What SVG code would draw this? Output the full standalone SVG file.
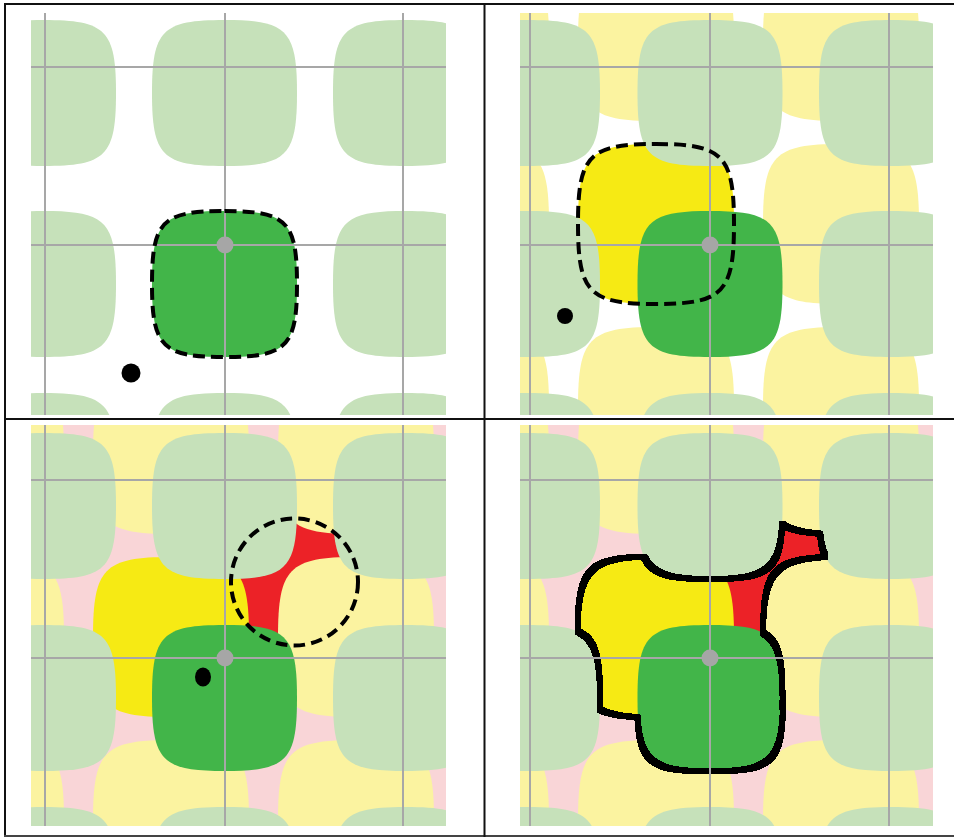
<svg xmlns="http://www.w3.org/2000/svg" xmlns:xlink="http://www.w3.org/1999/xlink" width="954" height="838" viewBox="0 0 954 838">
<style>
.lg{fill:#c6e1ba}
.dg{fill:#42b549}
.ly{fill:#fbf3a0}
.by{fill:#f6ea14}
.pk{fill:#f9d5d7}
.rd{fill:#ec2227}
.grid line{stroke:#a7a7a7;stroke-width:2}
.gdot{fill:#a6a6a6}
.dash{fill:none;stroke:#000;stroke-width:4;stroke-dasharray:12 6}
.frame line{stroke:#111;stroke-width:2}
.mw{fill:#fff}
.mb{fill:#000}
</style>
<defs>
<path id="gt" d="M0,-73 C62.35,-73 72.5,-62.78 72.5,0 C72.5,62.78 62.35,73 0,73 C-62.35,73 -72.5,62.78 -72.5,0 C-72.5,-62.78 -62.35,-73 0,-73Z"/>
<path id="yt" d="M0,-80 C67.08,-80 78,-68.8 78,0 C78,68.8 67.08,80 0,80 C-67.08,80 -78,68.8 -78,0 C-78,-68.8 -67.08,-80 0,-80Z"/>
<clipPath id="c1"><rect x="31" y="13" width="415" height="402"/></clipPath>
<clipPath id="c2"><rect x="520" y="13" width="413" height="402"/></clipPath>
<clipPath id="c3"><rect x="31" y="425" width="415" height="401"/></clipPath>
<clipPath id="c4"><rect x="520" y="425" width="413" height="401"/></clipPath>
<filter id="ring" filterUnits="userSpaceOnUse" x="500" y="410" width="454" height="425" color-interpolation-filters="sRGB">
<feColorMatrix in="SourceGraphic" type="luminanceToAlpha" result="l"/>
<feComponentTransfer in="l" result="m"><feFuncA type="discrete" tableValues="0 1"/></feComponentTransfer>
<feMorphology in="m" operator="dilate" radius="2.5" result="d"/>
<feMorphology in="m" operator="erode" radius="2.5" result="e"/>
<feComposite in="d" in2="e" operator="out"/>
</filter>
</defs>
<rect width="954" height="838" fill="#fff"/>

<g id="panel1" clip-path="url(#c1)">
<g class="lg">
<use href="#gt" x="43.5" y="93"/><use href="#gt" x="224.5" y="93"/><use href="#gt" x="405.5" y="93"/>
<use href="#gt" x="43.5" y="284"/><use href="#gt" x="405.5" y="284"/>
<use href="#gt" x="43.5" y="466"/><use href="#gt" x="224.5" y="466"/><use href="#gt" x="405.5" y="466"/>
</g>
<use href="#gt" x="224.5" y="284" class="dg"/>
<g class="grid">
<line x1="45" y1="13" x2="45" y2="415"/><line x1="225" y1="13" x2="225" y2="415"/><line x1="403" y1="13" x2="403" y2="415"/>
<line x1="31" y1="67" x2="446" y2="67"/><line x1="31" y1="245" x2="446" y2="245"/>
</g>
<use href="#gt" x="224.5" y="284" class="dash"/>
<circle class="gdot" cx="225" cy="245" r="8.5"/>
<circle cx="131" cy="373" r="9.5" fill="#000"/>
</g>

<g id="panel2" clip-path="url(#c2)">
<g class="ly">
<use href="#yt" x="471" y="41"/><use href="#yt" x="656" y="41"/><use href="#yt" x="841" y="41"/>
<use href="#yt" x="471" y="224"/><use href="#yt" x="841" y="224"/>
<use href="#yt" x="471" y="407"/><use href="#yt" x="656" y="407"/><use href="#yt" x="841" y="407"/>
</g>
<use href="#yt" x="656" y="224" class="by"/>
<g class="lg">
<use href="#gt" x="527.5" y="93"/><use href="#gt" x="710" y="93"/><use href="#gt" x="891.5" y="93"/>
<use href="#gt" x="527.5" y="284"/><use href="#gt" x="891.5" y="284"/>
<use href="#gt" x="527.5" y="466"/><use href="#gt" x="710" y="466"/><use href="#gt" x="891.5" y="466"/>
</g>
<use href="#gt" x="710" y="284" class="dg"/>
<g class="grid">
<line x1="530" y1="13" x2="530" y2="415"/><line x1="710" y1="13" x2="710" y2="415"/><line x1="889" y1="13" x2="889" y2="415"/>
<line x1="520" y1="67" x2="933" y2="67"/><line x1="520" y1="245" x2="933" y2="245"/>
</g>
<use href="#yt" x="656" y="224" class="dash"/>
<circle class="gdot" cx="710" cy="245" r="8.5"/>
<circle cx="565" cy="316" r="8" fill="#000"/>
</g>

<g id="panel3" clip-path="url(#c3)">
<rect class="pk" x="31" y="425" width="415" height="401"/>
<circle class="rd" cx="294.5" cy="582" r="62"/>
<g class="ly">
<use href="#yt" x="-14" y="454"/><use href="#yt" x="171" y="454"/><use href="#yt" x="356" y="454"/>
<use href="#yt" x="-14" y="637"/><use href="#yt" x="356" y="637"/>
<use href="#yt" x="-14" y="820"/><use href="#yt" x="171" y="820"/><use href="#yt" x="356" y="820"/>
</g>
<use href="#yt" x="171" y="637" class="by"/>
<g class="lg">
<use href="#gt" x="43.5" y="506"/><use href="#gt" x="224.5" y="506"/><use href="#gt" x="405.5" y="506"/>
<use href="#gt" x="43.5" y="698"/><use href="#gt" x="405.5" y="698"/>
<use href="#gt" x="43.5" y="880"/><use href="#gt" x="224.5" y="880"/><use href="#gt" x="405.5" y="880"/>
</g>
<use href="#gt" x="224.5" y="698" class="dg"/>
<g class="grid">
<line x1="45" y1="425" x2="45" y2="826"/><line x1="225" y1="425" x2="225" y2="826"/><line x1="403" y1="425" x2="403" y2="826"/>
<line x1="31" y1="480" x2="446" y2="480"/><line x1="31" y1="658" x2="446" y2="658"/>
</g>
<circle cx="294.5" cy="582" r="63.5" fill="none" stroke="#000" stroke-width="4" stroke-dasharray="11.5 6.3"/>
<circle class="gdot" cx="225" cy="658" r="8.5"/>
<ellipse cx="203" cy="677" rx="8" ry="9.5" fill="#000"/>
</g>

<g id="panel4" clip-path="url(#c4)">
<rect class="pk" x="520" y="425" width="413" height="401"/>
<rect class="rd" x="720" y="515" width="130" height="130"/>
<g class="ly">
<use href="#yt" x="471" y="454"/><use href="#yt" x="656" y="454"/><use href="#yt" x="841" y="454"/>
<use href="#yt" x="471" y="637"/><use href="#yt" x="841" y="637"/>
<use href="#yt" x="471" y="820"/><use href="#yt" x="656" y="820"/><use href="#yt" x="841" y="820"/>
</g>
<use href="#yt" x="656" y="637" class="by"/>
<g class="lg">
<use href="#gt" x="527.5" y="506"/><use href="#gt" x="710" y="506"/><use href="#gt" x="891.5" y="506"/>
<use href="#gt" x="527.5" y="698"/><use href="#gt" x="891.5" y="698"/>
<use href="#gt" x="527.5" y="880"/><use href="#gt" x="710" y="880"/><use href="#gt" x="891.5" y="880"/>
</g>
<use href="#gt" x="710" y="698" class="dg"/>
<g id="outline" filter="url(#ring)">
<use href="#yt" x="656" y="637" class="mw"/>
<rect class="mw" x="720" y="515" width="130" height="130"/>
<g class="mb">
<use href="#yt" x="656" y="454"/><use href="#yt" x="841" y="454"/><use href="#yt" x="841" y="637"/>
<use href="#gt" x="527.5" y="506"/><use href="#gt" x="710" y="506"/><use href="#gt" x="891.5" y="506"/>
<use href="#gt" x="527.5" y="698"/><use href="#gt" x="891.5" y="698"/>
</g>
<use href="#gt" x="710" y="698" class="mw"/>
</g>
<g class="grid">
<line x1="530" y1="425" x2="530" y2="826"/><line x1="710" y1="425" x2="710" y2="826"/><line x1="889" y1="425" x2="889" y2="826"/>
<line x1="520" y1="480" x2="933" y2="480"/><line x1="520" y1="658" x2="933" y2="658"/>
</g>
<circle class="gdot" cx="710" cy="658" r="8.5"/>
</g>

<g id="frame" class="frame">
<line x1="4" y1="4" x2="954" y2="4"/>
<line x1="5" y1="3" x2="5" y2="837"/>
<line x1="4" y1="836" x2="954" y2="836" style="stroke:#444"/>
<line x1="484.5" y1="3" x2="484.5" y2="837"/>
<line x1="4" y1="419" x2="954" y2="419"/>
</g>
</svg>
